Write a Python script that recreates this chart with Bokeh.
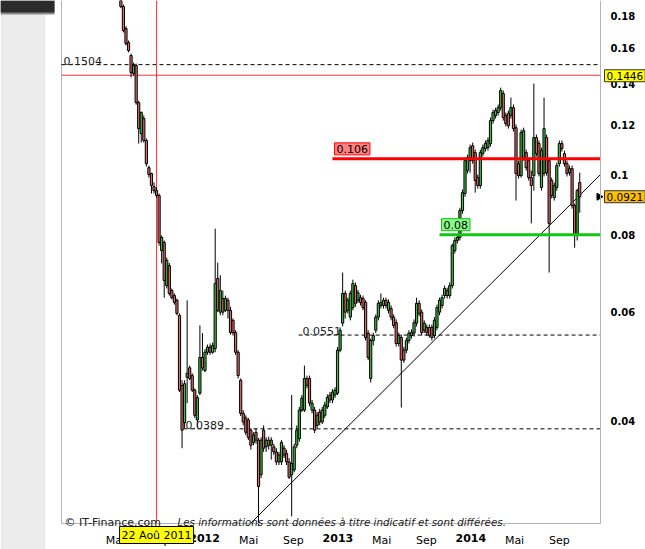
import datetime as dt
import math
from bokeh.plotting import figure
from bokeh.models import (Range1d, FixedTicker, CustomJSTickFormatter, Label,
                          BoxAnnotation, ColumnDataSource, DatetimeAxis)
from bokeh.embed import file_html
from bokeh.resources import INLINE


def ms(d):
    return (d - dt.datetime(1970, 1, 1)).total_seconds() * 1000.0


# ---------------- data (weekly candles, first week starting 16 May 2011) ----------------
first_week = dt.datetime(2011, 5, 16)

opens = [
    .200,
    .1866, .172, .1633, .1556, .1455, .1499, .1306, .1164, .1231, .1135,
    .1026, .1004, .0956, .0942, .0925, .0754, .0777, .0662, .0713, .0650,
    .0638, .0627, .0593, .0457, .0398, .0471, .0488, .0474, .0449, .0402,
    .0444, .0507, .0483, .0517, .0527, .0517, .0524, .0680, .0600, .0631,
    .0604, .0627, .0604, .0582, .0556, .0517, .0466, .0412, .0405, .0402,
    .0387, .0370, .0384, .0373, .0328, .0387, .0364, .0373, .0366, .0364,
    .0357, .0344, .0344, .0362, .0355, .0344, .0328, .0334, .0366, .0375,
    .0417, .0417, .0469, .0469, .0417, .0417, .0394, .0414, .0399, .0409,
    .0422, .0441, .0433, .0441, .0444, .0521, .0576, .0643, .0604, .0589,
    .0610, .0662, .0627, .0633, .0631, .0622, .0555, .0469, .0540, .0561,
    .0589, .0622, .0615, .0627, .0604, .0608, .0589, .0577, .0534, .0546,
    .0521, .0521, .0540, .0556, .0555, .0576, .0620, .0600, .0561, .0567,
    .0567, .0567, .0550, .0567, .0600, .0615, .0638, .0650, .0638, .0662,
    .0754, .0783, .0792, .0875, .0932, .1015, .1053, .1113, .1085, .0989,
    .0960, .1081, .1101, .1105, .1122, .1222, .1245, .1259, .1282, .1351,
    .1245, .1254, .1245, .1282, .1190, .1041, .0996, .1065, .1085, .1053,
    .0989, .0996, .1147, .1122, .0953, .1004, .1147, .1053, .0978, .0918,
    .0953, .1041, .1122, .1081, .1041, .1007, .1022, .0891, .0798, .0971,
]
highs = [
    .204,
    .188, .1735, .1645, .1567, .1516, .1510, .1316, .1264, .1245, .1143,
    .1034, .1007, .0971, .0953, .0932, .0798, .0783, .0735, .0720, .0655,
    .0643, .0631, .0597, .0466, .0466, .0627, .0492, .0478, .0452, .0441,
    .0571, .0555, .0523, .0532, .0534, .0536, .0818, .0721, .0688, .0650,
    .0638, .0633, .0612, .0586, .0561, .0521, .0469, .0417, .0409, .0405,
    .0390, .0384, .0390, .0376, .0377, .0394, .0377, .0378, .0377, .0368,
    .0362, .0357, .0373, .0366, .0360, .0349, .0441, .0368, .0394, .0422,
    .0441, .0492, .0474, .0474, .0433, .0422, .0414, .0419, .0422, .0430,
    .0442, .0446, .0451, .0454, .0527, .0567, .0695, .0650, .0633, .0650,
    .0677, .0670, .0652, .0640, .0638, .0627, .0561, .0544, .0556, .0595,
    .0627, .0643, .0633, .0633, .0629, .0615, .0595, .0584, .0556, .0552,
    .0527, .0546, .0561, .0563, .0584, .0633, .0627, .0606, .0582, .0573,
    .0573, .0573, .0589, .0617, .0633, .0640, .0662, .0657, .0670, .0774,
    .0792, .0800, .0884, .0946, .1065, .1077, .1118, .1126, .1097, .1000,
    .1097, .1118, .1135, .1148, .1236, .1273, .1282, .1297, .1381, .1366,
    .1259, .1268, .1331, .1297, .1204, .1053, .1182, .1190, .1097, .1065,
    .1015, .1402, .1160, .1135, .1105, .1331, .1160, .1065, .0989, .0971,
    .1045, .1135, .1135, .1093, .1053, .1034, .1034, .0898, .0949, .1007,
]
lows = [
    .1855,
    .1695, .1615, .1574, .1434, .1444, .1296, .1122, .1126, .1126, .1030,
    .0989, .0932, .0932, .0918, .0768, .0719, .0633, .0655, .0638, .0629,
    .0617, .0593, .0446, .0362, .0390, .0428, .0466, .0446, .0405, .0391,
    .0441, .0483, .0480, .0512, .0512, .0514, .0517, .0600, .0593, .0593,
    .0600, .0586, .0552, .0550, .0512, .0469, .0408, .0394, .0380, .0373,
    .0360, .0366, .0368, .0272, .0324, .0357, .0357, .0360, .0347, .0353,
    .0340, .0340, .0340, .0349, .0340, .0323, .0281, .0331, .0362, .0371,
    .0414, .0414, .0452, .0423, .0412, .0383, .0390, .0394, .0396, .0405,
    .0419, .0428, .0428, .0436, .0441, .0517, .0569, .0586, .0597, .0582,
    .0604, .0612, .0620, .0615, .0604, .0540, .0502, .0462, .0530, .0555,
    .0582, .0608, .0608, .0608, .0597, .0582, .0565, .0528, .0528, .0421,
    .0497, .0515, .0534, .0544, .0548, .0569, .0591, .0550, .0555, .0550,
    .0546, .0540, .0544, .0561, .0593, .0608, .0631, .0631, .0631, .0655,
    .0746, .0774, .0783, .0865, .0921, .1004, .1007, .1041, .0935, .0949,
    .0949, .1069, .1089, .1093, .1110, .1208, .1231, .1245, .1268, .1222,
    .1195, .1186, .1231, .1173, .0908, .0985, .0989, .1053, .1015, .0978,
    .0834, .0942, .1069, .0993, .0942, .0993, .0996, .0695, .0915, .0908,
    .0942, .1030, .1089, .1030, .0993, .0996, .0881, .0762, .0783, .0868,
]
closes = [
    .1866,
    .1707, .1626, .1585, .1460, .1499, .1306, .1186, .1259, .1135, .1041,
    .1000, .0960, .0942, .0925, .0777, .0792, .0675, .0727, .0643, .0633,
    .0622, .0597, .0449, .0387, .0460, .0478, .0469, .0449, .0409, .0437,
    .0507, .0488, .0517, .0527, .0517, .0530, .0667, .0604, .0650, .0600,
    .0631, .0604, .0556, .0556, .0517, .0474, .0412, .0399, .0384, .0377,
    .0366, .0380, .0373, .0314, .0373, .0362, .0373, .0366, .0373, .0357,
    .0344, .0353, .0370, .0353, .0344, .0325, .0342, .0364, .0387, .0417,
    .0436, .0469, .0457, .0428, .0428, .0387, .0409, .0399, .0417, .0425,
    .0437, .0433, .0446, .0449, .0521, .0561, .0643, .0600, .0627, .0643,
    .0667, .0620, .0645, .0622, .0610, .0546, .0507, .0540, .0550, .0589,
    .0620, .0615, .0627, .0615, .0622, .0589, .0571, .0534, .0550, .0502,
    .0502, .0540, .0555, .0550, .0577, .0620, .0597, .0556, .0576, .0556,
    .0550, .0546, .0582, .0610, .0627, .0633, .0655, .0638, .0662, .0768,
    .0783, .0792, .0875, .0935, .1053, .1065, .1105, .1053, .0978, .0960,
    .1085, .1105, .1122, .1135, .1222, .1259, .1268, .1282, .1366, .1236,
    .1208, .1199, .1282, .1186, .1004, .0996, .1169, .1177, .1026, .0989,
    .0960, .1147, .1081, .1004, .1093, .1186, .1007, .0834, .0925, .0960,
    .1034, .1122, .1101, .1041, .1004, .1022, .0891, .0798, .0942, .0921,
]

# horizontal levels drawn on the chart
upper_dashed_level = 0.1504
red_thin_level = 0.1446
resistance_level = 0.106
resistance_start = dt.datetime(2012, 12, 17)
support_level = 0.08
support_start = dt.datetime(2013, 10, 7)
dashed_levels = [0.0551, 0.0389]
dashed_starts = [dt.datetime(2012, 9, 15), dt.datetime(2011, 11, 4)]
dashed_labels = ["0.0551", "0.0389"]

# trend line anchors
trend_dates = [dt.datetime(2012, 5, 6), dt.datetime(2014, 12, 23)]
trend_values = [0.02737, 0.1000]

# cursor date
cursor_date = dt.datetime(2011, 8, 22)
cursor_text = "22 Aoû 2011"

# axis ticks
y_ticks = [0.04, 0.06, 0.08, 0.1, 0.12, 0.14, 0.16, 0.18]
month_ticks = [(2011, 5), (2011, 9), (2012, 5), (2012, 9), (2013, 5), (2013, 9),
               (2014, 5), (2014, 9)]
year_ticks = [2012, 2013, 2014]

# ---------------- geometry ----------------
x_start = dt.datetime(2010, 12, 4)
x_end = dt.datetime(2014, 12, 23)
y_low = 0.02737
PX_PER_DAY = 133 / 365.25
PX_PER_LOG = 269.3
W, H = 645, 549
LEFT, RIGHT, BOTTOM = 61, 45, 26


def dshift(px):
    return dt.timedelta(days=px / PX_PER_DAY)


def yshift(v, px):
    return v * math.exp(px / PX_PER_LOG)


range_start = x_start - dshift(LEFT)
range_end = x_end + dshift(RIGHT)
y_bottom = yshift(y_low, -BOTTOM)
y_top = yshift(y_low, H - BOTTOM)

p = figure(width=W, height=H, x_axis_type="datetime", y_axis_type="log",
           y_axis_location="right",
           x_range=Range1d(ms(range_start), ms(range_end)), y_range=Range1d(y_bottom, y_top),
           output_backend="svg", toolbar_location=None,
           min_border_left=0, min_border_right=0, min_border_top=0, min_border_bottom=0)
p.outline_line_color = None
p.background_fill_color = "white"
p.border_fill_color = "white"
p.xgrid.visible = False
p.ygrid.visible = False


def style_x_axis(ax, bold):
    ax.fixed_location = y_low
    ax.bounds = (ms(x_start), ms(x_end))
    ax.major_tick_line_color = None
    ax.minor_tick_line_color = None
    ax.major_label_text_font = "DejaVu Sans"
    ax.major_label_text_font_size = "11px"
    ax.major_label_text_font_style = "bold" if bold else "normal"
    ax.major_label_text_color = "#000000"
    ax.major_label_standoff = 4


xa = p.xaxis[0]
style_x_axis(xa, False)
xa.ticker = FixedTicker(ticks=[ms(dt.datetime(y, m, 1)) for (y, m) in month_ticks])
xa.formatter = CustomJSTickFormatter(code="""
const names = ["Jan","Fév","Mar","Avr","Mai","Juin","Juil","Aoû","Sep","Oct","Nov","Déc"];
return names[new Date(tick).getUTCMonth()];
""")
xa.axis_line_color = "#b4b4b4"
xa.axis_line_width = 1

xy = DatetimeAxis()
style_x_axis(xy, True)
xy.ticker = FixedTicker(ticks=[ms(dt.datetime(y, 1, 1)) for y in year_ticks])
xy.formatter = CustomJSTickFormatter(code="return String(new Date(tick).getUTCFullYear());")
xy.axis_line_color = None
p.add_layout(xy, "below")

ya = p.yaxis[0]
ya.fixed_location = ms(x_end)
ya.bounds = (y_low, y_top)
ya.ticker = FixedTicker(ticks=y_ticks)
ya.formatter = CustomJSTickFormatter(code="return String(tick);")
ya.major_tick_line_color = None
ya.minor_tick_line_color = None
ya.axis_line_color = "#b4b4b4"
ya.axis_line_width = 1
ya.major_label_text_font = "DejaVu Sans"
ya.major_label_text_font_style = "bold"
ya.major_label_text_font_size = "10px"
ya.major_label_text_color = "#000000"
ya.major_label_standoff = 4

# side panel decoration (left of the chart area)
p.add_layout(BoxAnnotation(left=ms(range_start), right=ms(range_start + dshift(45)),
                           bottom=y_bottom, top=y_top, fill_color="#ececec", fill_alpha=1.0,
                           line_alpha=0, level="underlay"))
p.add_layout(BoxAnnotation(left=ms(range_start), right=ms(range_start + dshift(54)),
                           bottom=yshift(y_top, -14), top=y_top, fill_color="#8a8a8a",
                           fill_alpha=1.0, line_alpha=0, level="underlay"))
p.add_layout(BoxAnnotation(left=ms(range_start), right=ms(range_start + dshift(54)),
                           bottom=yshift(y_top, -12), top=y_top, fill_color="#2b2b2b",
                           fill_alpha=1.0, line_alpha=0, level="underlay"))
# left border of the chart area
p.segment(x0=[ms(x_start)], y0=[y_low], x1=[ms(x_start)], y1=[y_top],
          line_color="#b4b4b4", line_width=1)

# ---------------- levels ----------------
p.segment(x0=[ms(x_start)], y0=[upper_dashed_level], x1=[ms(x_end)], y1=[upper_dashed_level],
          line_color="black", line_dash="4 3", line_width=1)
p.add_layout(Label(x=ms(x_start), y=upper_dashed_level, text=f"{upper_dashed_level}",
                   x_offset=2, y_offset=4, text_baseline="alphabetic",
                   text_font="DejaVu Sans", text_font_size="11px", text_color="#222222"))
p.segment(x0=[ms(x_start)], y0=[red_thin_level], x1=[ms(x_end)], y1=[red_thin_level],
          line_color="#ff3333", line_width=1)

p.segment(x0=[ms(s) for s in dashed_starts], y0=dashed_levels,
          x1=[ms(x_end)] * len(dashed_levels), y1=dashed_levels,
          line_color="black", line_dash="4 3", line_width=1)
for lvl, st, txt, off in zip(dashed_levels, dashed_starts, dashed_labels, [4, 2]):
    p.add_layout(Label(x=ms(st), y=lvl, text=txt, x_offset=off, y_offset=4,
                       text_baseline="alphabetic", text_font="DejaVu Sans",
                       text_font_size="11px", text_color="#222222"))

# trend line
p.segment(x0=[ms(trend_dates[0])], y0=[trend_values[0]], x1=[ms(trend_dates[1])],
          y1=[trend_values[1]], line_color="black", line_width=1)

# cursor line
p.segment(x0=[ms(cursor_date)], y0=[y_low], x1=[ms(cursor_date)], y1=[y_top],
          line_color="#ff3333", line_width=1)

# ---------------- candles ----------------
dates = [ms(first_week + dt.timedelta(weeks=i)) for i in range(len(closes))]
src = ColumnDataSource(dict(
    date=dates, high=highs, low=lows,
    top=[max(o, c) for o, c in zip(opens, closes)],
    bottom=[min(o, c) for o, c in zip(opens, closes)],
    color=["#3cc23c" if c >= o else "#e06a6a" for o, c in zip(opens, closes)],
))
p.segment(x0="date", y0="high", x1="date", y1="low", source=src, line_color="black", line_width=1)
p.vbar(x="date", width=6 * 86400000, top="top", bottom="bottom", source=src,
       fill_color="color", line_color="black", line_width=1)

# resistance / support thick lines with boxed labels
p.segment(x0=[ms(resistance_start)], y0=[resistance_level], x1=[ms(x_end)], y1=[resistance_level],
          line_color="#ff0000", line_width=3)
p.add_layout(Label(x=ms(resistance_start), y=resistance_level, text=f"{resistance_level}",
                   x_offset=2, y_offset=4, text_baseline="bottom", padding=2,
                   background_fill_color="#ff8080", border_line_color="#ff0000",
                   text_font="DejaVu Sans", text_font_size="11px", text_color="#000000"))
p.segment(x0=[ms(support_start)], y0=[support_level], x1=[ms(x_end)], y1=[support_level],
          line_color="#11c711", line_width=3)
p.add_layout(Label(x=ms(support_start), y=support_level, text=f"{support_level}",
                   x_offset=2, y_offset=4, text_baseline="bottom", padding=2,
                   background_fill_color="#88f888", border_line_color="#11c711",
                   text_font="DejaVu Sans", text_font_size="11px", text_color="#000000"))

# cursor date box under the chart area
p.add_layout(Label(x=ms(cursor_date), y=yshift(y_low, -11.5), text=cursor_text,
                   text_align="center", text_baseline="middle", padding=2,
                   background_fill_color="#ffff00", border_line_color="#000000",
                   text_font="DejaVu Sans", text_font_size="11px", text_color="#000000"))

# right-hand value boxes
p.add_layout(Label(x=ms(x_end), y=red_thin_level, text=f"{red_thin_level}", x_offset=4,
                   y_offset=-0.5, text_baseline="middle", padding=2,
                   background_fill_color="#ffff00", border_line_color="#333333",
                   text_font="DejaVu Sans", text_font_size="10.5px", text_color="#000000"))
p.add_layout(Label(x=ms(x_end), y=closes[-1], text=f"{closes[-1]}", x_offset=4,
                   text_baseline="middle", padding=2,
                   background_fill_color="#ffc000", border_line_color="#333333",
                   text_font="DejaVu Sans", text_font_size="10.5px", text_color="#000000"))
p.scatter(x=[ms(x_end - dshift(1.5))], y=[closes[-1]], marker="triangle", size=7,
          angle=-math.pi / 2, fill_color="black", line_color="black")

# footer texts
p.add_layout(Label(x=ms(x_start), y=y_low, text="© IT-Finance.com", x_offset=3, y_offset=1.5,
                   text_baseline="alphabetic", text_font="DejaVu Sans", text_font_size="11px",
                   text_color="#222222"))
p.add_layout(Label(x=ms(x_start), y=y_low,
                   text="Les informations sont données à titre indicatif et sont différées.",
                   x_offset=116, y_offset=1.5, text_baseline="alphabetic",
                   text_font="DejaVu Sans", text_font_style="italic", text_font_size="10.3px",
                   text_color="#222222"))

open("out.html", "w").write(file_html(p, INLINE))
